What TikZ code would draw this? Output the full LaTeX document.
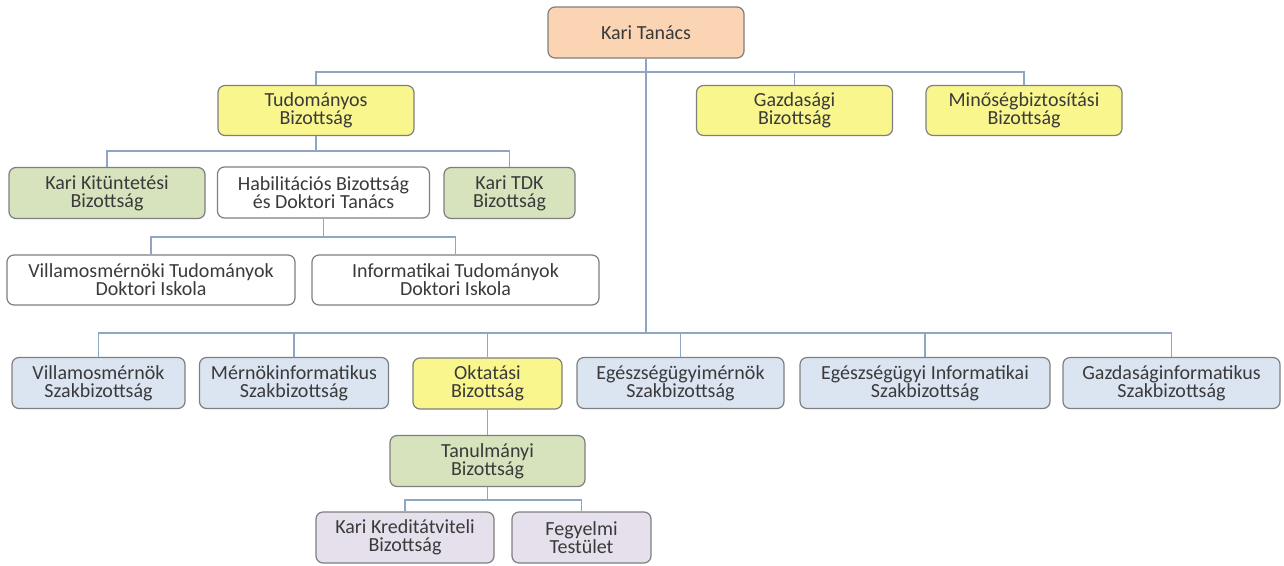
\documentclass[tikz,border=0pt]{standalone}
\usepackage{fontspec}
\setmainfont{Carlito}
\definecolor{linec}{HTML}{8FA6C2}
\definecolor{borderc}{HTML}{7F7F7F}
\definecolor{textc}{HTML}{3A3A3A}
\definecolor{peach}{HTML}{FBD4B4}
\definecolor{yel}{HTML}{FAF68E}
\definecolor{grn}{HTML}{D7E3BC}
\definecolor{blu}{HTML}{DBE5F1}
\definecolor{pur}{HTML}{E5E0EC}
\tikzset{
  orgbox/.style={draw=borderc, line width=1.2pt, rounded corners=7pt, inner sep=0pt,
    align=center, text=textc, font=\fontsize{20}{18}\selectfont},
  link/.style={draw=linec, line width=1.4pt}
}
\begin{document}
\begin{tikzpicture}[x=1pt,y=-1pt]
\useasboundingbox[fill=white] (0,0) rectangle (1284,565);
% nodes
\node[orgbox, fill=peach, minimum width=196pt, minimum height=51pt] (kt) at (646,32.5) {Kari Tanács};
\node[orgbox, fill=yel, minimum width=196pt, minimum height=50pt] (tud) at (316,110.5) {Tudományos\\Bizottság};
\node[orgbox, fill=yel, minimum width=196pt, minimum height=50pt] (gaz) at (794.5,110.5) {Gazdasági\\Bizottság};
\node[orgbox, fill=yel, minimum width=196pt, minimum height=50pt] (min) at (1024,110.5) {Minőségbiztosítási\\Bizottság};
\node[orgbox, fill=grn, minimum width=196pt, minimum height=51pt] (kit) at (107,193) {Kari Kitüntetési\\Bizottság};
\node[orgbox, fill=white, minimum width=212pt, minimum height=51pt] (hab) at (323.5,192.5) {Habilitációs Bizottság\\és Doktori Tanács};
\node[orgbox, fill=grn, minimum width=131pt, minimum height=51pt] (tdk) at (509.5,193) {Kari TDK\\Bizottság};
\node[orgbox, fill=white, minimum width=288pt, minimum height=50pt] (vdi) at (151,280) {Villamosmérnöki Tudományok\\Doktori Iskola};
\node[orgbox, fill=white, minimum width=287pt, minimum height=50pt] (idi) at (455.5,280) {Informatikai Tudományok\\Doktori Iskola};
\node[orgbox, fill=blu, minimum width=173pt, minimum height=51pt] (vsz) at (98.5,383) {Villamosmérnök\\Szakbizottság};
\node[orgbox, fill=blu, minimum width=189pt, minimum height=51pt] (msz) at (294,383) {Mérnökinformatikus\\Szakbizottság};
\node[orgbox, fill=yel, minimum width=149pt, minimum height=51pt] (okt) at (487.5,383.5) {Oktatási\\Bizottság};
\node[orgbox, fill=blu, minimum width=207pt, minimum height=51pt] (esm) at (680.5,383) {Egészségügyimérnök\\Szakbizottság};
\node[orgbox, fill=blu, minimum width=250pt, minimum height=51pt] (esi) at (925,383) {Egészségügyi Informatikai\\Szakbizottság};
\node[orgbox, fill=blu, minimum width=217pt, minimum height=51pt] (gsz) at (1171.5,383) {Gazdaságinformatikus\\Szakbizottság};
\node[orgbox, fill=grn, minimum width=195pt, minimum height=51pt] (tan) at (487.5,461) {Tanulmányi\\Bizottság};
\node[orgbox, fill=pur, minimum width=178pt, minimum height=51pt] (kkr) at (405,537.5) {Kari Kreditátviteli\\Bizottság};
\node[orgbox, fill=pur, minimum width=139pt, minimum height=51pt] (feg) at (581.5,537.5) {Fegyelmi\\Testület};
% bus coordinates
\coordinate (b1) at (0,72);
\coordinate (b2) at (0,151);
\coordinate (b3) at (0,237);
\coordinate (b4) at (0,333);
\coordinate (b5) at (0,500);
% connectors
\path[link] (kt.south) -- (kt.south |- b4);
\path[link] (tud.north) -- (tud.north |- b1) -- (min.north |- b1) -- (min.north);
\path[link] (gaz.north) -- (gaz.north |- b1);
\path[link] (tud.south) -- (tud.south |- b2);
\path[link] (kit.north) -- (kit.north |- b2) -- (tdk.north |- b2) -- (tdk.north);
\path[link] (hab.south) -- (hab.south |- b3);
\path[link] (vdi.north) -- (vdi.north |- b3) -- (idi.north |- b3) -- (idi.north);
\path[link] (vsz.north) -- (vsz.north |- b4) -- (gsz.north |- b4) -- (gsz.north);
\path[link] (msz.north) -- (msz.north |- b4);
\path[link] (okt.north) -- (okt.north |- b4);
\path[link] (esm.north) -- (esm.north |- b4);
\path[link] (esi.north) -- (esi.north |- b4);
\path[link] (okt.south) -- (tan.north);
\path[link] (tan.south) -- (tan.south |- b5);
\path[link] (kkr.north) -- (kkr.north |- b5) -- (feg.north |- b5) -- (feg.north);
\end{tikzpicture}
\end{document}
